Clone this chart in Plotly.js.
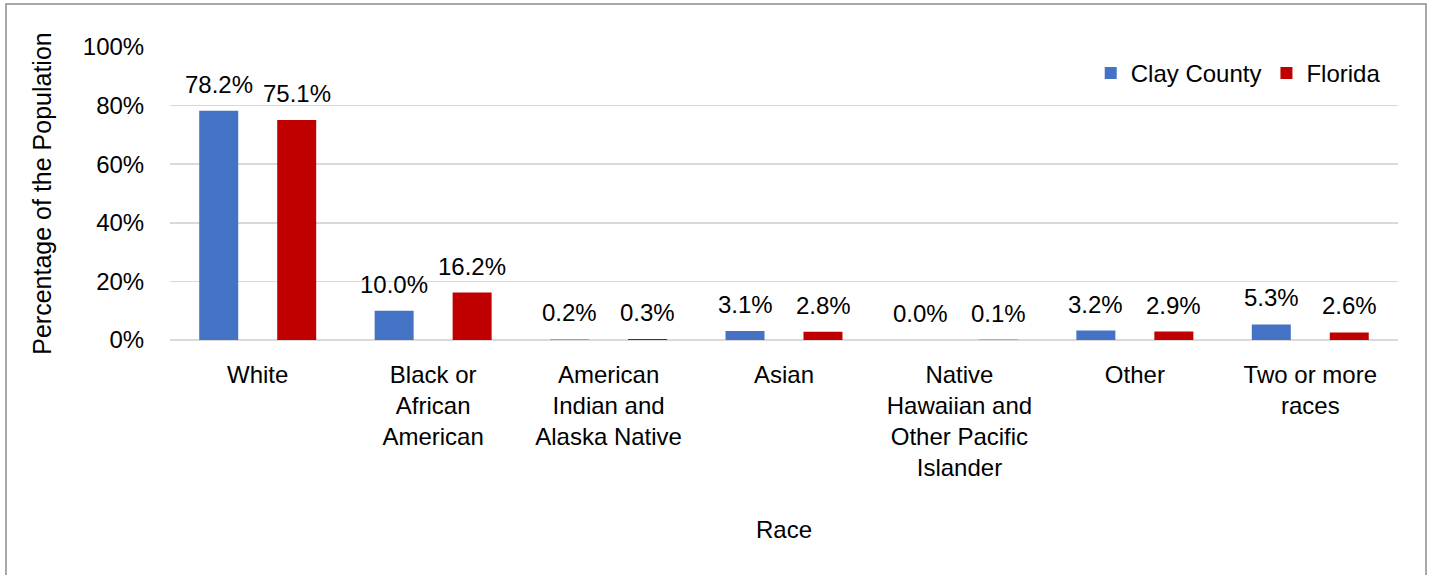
<!DOCTYPE html>
<html>
<head>
<meta charset="utf-8">
<script src="https://cdn.plot.ly/plotly-3.0.1.min.js"></script>
<style>
html,body{margin:0;padding:0;background:#fff;}
#chart{width:1434px;height:575px;}
</style>
</head>
<body>
<div id="chart"></div>
<script>
const categories = ["White", "Black or<br>African<br>American", "American<br>Indian and<br>Alaska Native", "Asian", "Native<br>Hawaiian and<br>Other Pacific<br>Islander", "Other", "Two or more<br>races"];
const clayCounty = [78.2, 10.0, 0.2, 3.1, 0.0, 3.2, 5.3];
const florida = [75.1, 16.2, 0.3, 2.8, 0.1, 2.9, 2.6];
const yTicks = [0, 20, 40, 60, 80, 100];
const yTickText = ["0%", "20%", "40%", "60%", "80%", "100%"];

const FONT = "Liberation Sans, Arial, sans-serif";

const traces = [
  {type: "bar", name: "Clay County", x: categories, y: clayCounty,
   marker: {color: "#4472C4"}, hoverinfo: "skip"},
  {type: "bar", name: "Florida", x: categories, y: florida,
   marker: {color: "#C00000"}, hoverinfo: "skip"}
];

function labels(values, shift) {
  return values.map((v, i) => ({
    xref: "x", yref: "y", x: categories[i], y: v,
    text: v.toFixed(1) + "%", showarrow: false,
    xanchor: "center", yanchor: "bottom", xshift: shift, yshift: 11,
    font: {size: 24, family: FONT, color: "#000"}
  }));
}

const layout = {
  width: 1434, height: 575,
  margin: {l: 170, r: 36, t: 47, b: 235},
  paper_bgcolor: "#fff", plot_bgcolor: "#fff",
  font: {family: FONT, size: 24, color: "#000"},
  barmode: "group", bargap: 0.111, bargroupgap: 0.5,
  showlegend: true,
  legend: {orientation: "h", x: 0.99, xanchor: "right", y: 0.91, yanchor: "middle",
           font: {size: 24, family: FONT}, bgcolor: "rgba(0,0,0,0)", itemwidth: 30},
  xaxis: {type: "category", showgrid: false, zeroline: false, showline: false,
          ticks: "outside", ticklen: 13, tickcolor: "rgba(0,0,0,0)",
          tickfont: {size: 24, family: FONT},
          title: {text: "Race", font: {size: 24, family: FONT}, standoff: 40},
          automargin: false, fixedrange: true},
  yaxis: {range: [0, 100], tickmode: "array", tickvals: yTicks, ticktext: yTickText, showgrid: true,
          gridcolor: "#d9d9d9", gridwidth: 1.5, zeroline: true, zerolinecolor: "#d9d9d9", zerolinewidth: 1.5,
          showline: false, ticks: "outside", ticklen: 20, tickcolor: "rgba(0,0,0,0)",
          tickfont: {size: 24, family: FONT},
          title: {text: "Percentage of the Population", font: {size: 25, family: FONT}, standoff: 24},
          automargin: false, fixedrange: true},
  annotations: labels(clayCounty, -39).concat(labels(florida, 39)),
  shapes: [{type: "rect", xref: "paper", yref: "paper",
            x0: (6 - 170) / 1228, x1: (1426 - 170) / 1228,
            y0: -0.9, y1: (340 - 4) / 293,
            line: {color: "#8c8c8c", width: 1.5}, fillcolor: "rgba(0,0,0,0)", layer: "below"}]
};

Plotly.newPlot("chart", traces, layout, {displayModeBar: false, staticPlot: true});
</script>
</body>
</html>
